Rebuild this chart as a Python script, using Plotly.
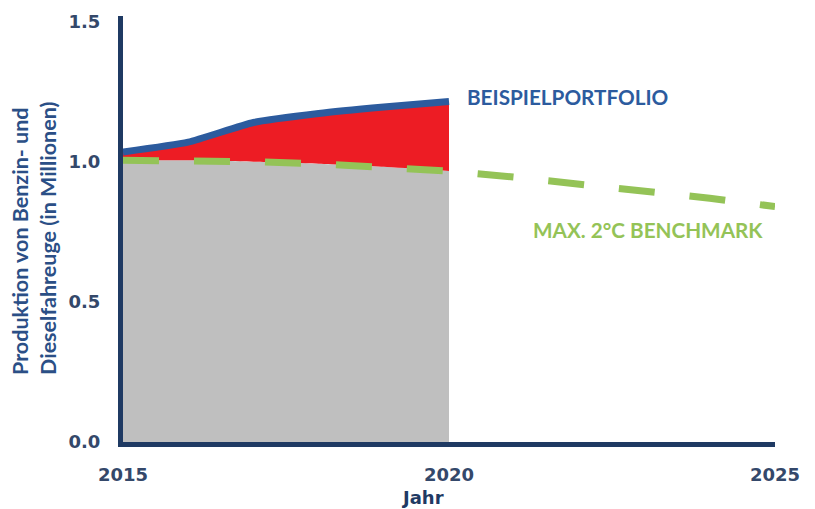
import plotly.graph_objects as go

# Production of petrol and diesel vehicles (millions)
years = [2015, 2016, 2017, 2018, 2019, 2020, 2021, 2022, 2023, 2024, 2025]
portfolio_years = [2015, 2016, 2017, 2018, 2019, 2020]
portfolio = [1.035, 1.07, 1.14, 1.172, 1.195, 1.215]
benchmark = [1.005, 1.005, 1.0, 0.993, 0.982, 0.967, 0.945, 0.922, 0.897, 0.87, 0.84]
y_ticks = [0.0, 0.5, 1.0, 1.5]
x_ticks = [2015, 2020, 2025]

NAVY = "#1f3a63"
BLUE = "#2c5b9e"
RED = "#ed1c24"
GREY = "#bfbfbf"
GREEN = "#94c357"
TICK = "#34486a"

n = len(portfolio_years)
fig = go.Figure()

# benchmark share up to the present (grey area)
fig.add_trace(go.Scatter(
    x=portfolio_years, y=benchmark[:n], mode="lines",
    line=dict(width=0, color=GREY, shape="spline", smoothing=0.5),
    fill="tozeroy", fillcolor=GREY, hoverinfo="skip", showlegend=False))

# excess production above the benchmark (red area)
fig.add_trace(go.Scatter(
    x=portfolio_years, y=portfolio, mode="lines",
    line=dict(width=0, color=RED, shape="spline", smoothing=0.5),
    fill="tonexty", fillcolor=RED, hoverinfo="skip", showlegend=False))

# portfolio line
fig.add_trace(go.Scatter(
    x=portfolio_years, y=portfolio, mode="lines",
    line=dict(width=7, color=BLUE, shape="spline", smoothing=0.5),
    showlegend=False))

# 2°C benchmark path
fig.add_trace(go.Scatter(
    x=years, y=benchmark, mode="lines",
    line=dict(width=7, color=GREEN, dash="36px,35px"),
    showlegend=False))

fig.add_annotation(x=2020.24, y=1.23, text="<b>BEISPIELPORTFOLIO</b>",
                   showarrow=False, xanchor="left", yanchor="middle",
                   font=dict(family="Lato", size=20.7, color=BLUE))
fig.add_annotation(x=2021.25, y=0.758, text="<b>MAX. 2°C BENCHMARK</b>",
                   showarrow=False, xanchor="left", yanchor="middle",
                   font=dict(family="Lato", size=20.7, color=GREEN))

# y-axis title in two lines
fig.add_annotation(xref="paper", yref="paper", x=0, y=0.5, xshift=-89, yshift=-10,
                   text="<b>Produktion von Benzin- und<br>Dieselfahreuge (in Millionen)</b>",
                   showarrow=False, textangle=-90, align="left",
                   xanchor="center", yanchor="middle",
                   font=dict(family="Lato", size=21.5, color="#2b4f86"))

# x-axis title
fig.add_annotation(x=2019.6, xref="x", yref="paper", y=0, yshift=-55,
                   text="<b>Jahr</b>", showarrow=False,
                   xanchor="center", yanchor="middle",
                   font=dict(family="DejaVu Sans", size=18, color=NAVY))

fig.update_xaxes(
    range=[2015, 2025], tickvals=x_ticks, ticktext=[f"<b>{v}</b>" for v in x_ticks],
    showline=True, linecolor=NAVY, linewidth=5, showgrid=False, zeroline=False,
    ticks="outside", ticklen=12, tickcolor="rgba(0,0,0,0)",
    tickfont=dict(family="DejaVu Sans", size=18, color=TICK))
fig.update_yaxes(
    range=[0, 1.52], tickvals=y_ticks, ticktext=[f"<b>{v:.1f}</b>" for v in y_ticks],
    showline=True, linecolor=NAVY, linewidth=5, showgrid=False, zeroline=False,
    ticks="outside", ticklen=14, tickcolor="rgba(0,0,0,0)",
    tickfont=dict(family="DejaVu Sans", size=18, color=TICK))

fig.update_layout(
    width=815, height=509,
    margin=dict(l=123, r=40, t=16, b=67),
    plot_bgcolor="white", paper_bgcolor="white",
    font=dict(family="DejaVu Sans"))

fig.write_html("out.html")
